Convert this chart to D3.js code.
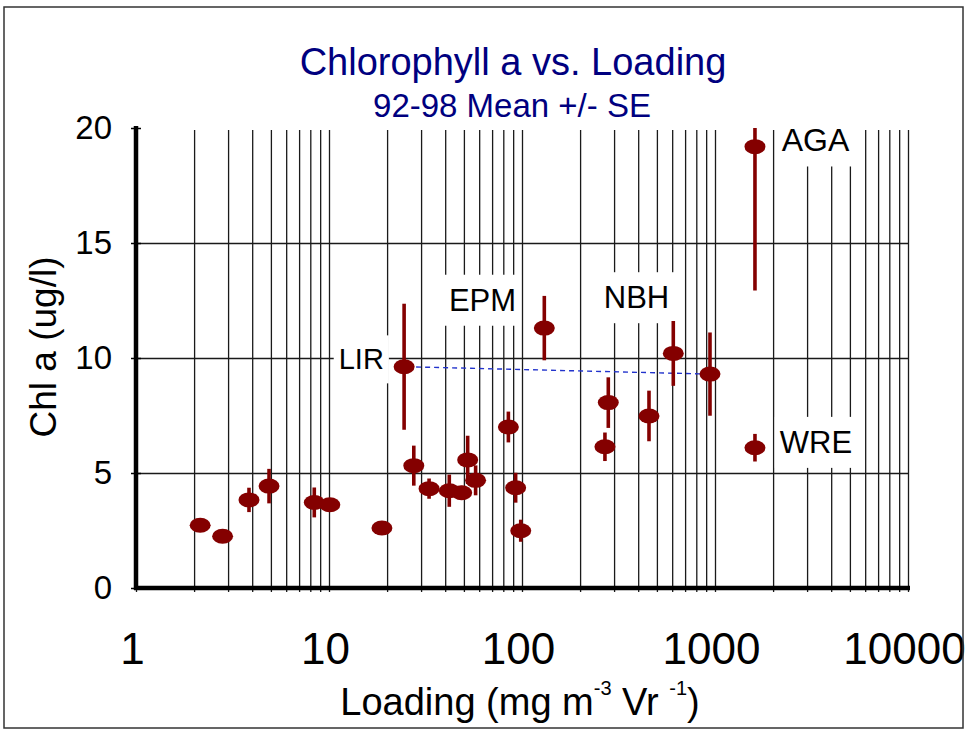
<!DOCTYPE html>
<html>
<head>
<meta charset="utf-8">
<script src="https://cdn.jsdelivr.net/npm/d3@7"></script>
<style>
  body { margin: 0; background: #fff; }
  svg { display: block; font-family: "Liberation Sans", Arial, sans-serif; }
</style>
</head>
<body>
<svg id="chart"></svg>
<script>
const width = 968;
const height = 732;
const margin = {top: 128, right: 60, bottom: 144, left: 136};

// site means, 92-98
const loading = [2.15, 2.81, 3.85, 4.89, 8.39, 10.1, 18.8, 24.5, 27.5, 33, 42, 48.7, 52.3, 57.5,
                 85, 92.7, 98.5, 130.5, 269, 280, 455, 608, 942, 1611, 1611];
const chlA = [2.73, 2.25, 3.83, 4.43, 3.72, 3.62, 2.61, 9.62, 5.32, 4.32, 4.23, 4.14, 5.57, 4.68,
              7.0, 4.36, 2.49, 11.3, 6.14, 8.06, 7.48, 10.2, 9.3, 19.19, 6.1];
const chlSE = [0.15, 0.15, 0.53, 0.75, 0.65, 0.2, 0.15, 2.74, 0.87, 0.44, 0.7, 0.3, 1.05, 0.65,
               0.67, 0.65, 0.48, 1.4, 0.62, 1.1, 1.1, 1.41, 1.81, 6.26, 0.6];

const xTicks = [1, 10, 100, 1000, 10000];
const yTicks = [0, 5, 10, 15, 20];

// site labels (centre, in data units)
const labelNames = ['LIR', 'EPM', 'NBH', 'AGA', 'WRE'];
const labelX = [14.7, 62.4, 392, 3316, 3334];
const labelY = [9.96, 12.54, 12.65, 19.48, 6.36];
const labelSize = [29, 31, 31, 32, 31];

// dashed line joins LIR with the site at ~940
const refFrom = 7, refTo = 22;

const red = '#840000';
const navy = '#00007f';

const x = d3.scaleLog().domain([1, 10000]).range([margin.left, width - margin.right]);
const y = d3.scaleLinear().domain([0, 20]).range([height - margin.bottom, margin.top]);

const svg = d3.select('#chart')
    .attr('width', width)
    .attr('height', height);

svg.append('rect')
    .attr('width', width).attr('height', height)
    .attr('fill', '#fff');

// titles
svg.append('text')
    .attr('x', 513).attr('y', 75)
    .attr('text-anchor', 'middle')
    .attr('fill', navy)
    .style('font-size', '38px')
    .text('Chlorophyll a vs. Loading');

svg.append('text')
    .attr('x', 512).attr('y', 117)
    .attr('text-anchor', 'middle')
    .attr('fill', navy)
    .style('font-size', '33px')
    .text('92-98 Mean +/- SE');

// vertical grid: every 1..9 per decade
const minor = [];
for (let d = 1; d <= 1000; d *= 10)
    for (let k = 1; k <= 9; k++) minor.push(d * k);
minor.push(10000);

const bottomY = y(0);
svg.append('g')
    .attr('transform', `translate(0,${bottomY + 4})`)
    .call(d3.axisBottom(x).tickValues(minor).tickFormat('').tickSize(-(bottomY + 4 - y(20) - 2)).tickSizeOuter(0))
    .call(g => g.select('.domain').remove())
    .call(g => g.selectAll('.tick line').attr('stroke', '#1a1a1a').attr('stroke-width', 1.3));

// horizontal grid
svg.append('g')
    .attr('transform', `translate(${margin.left},0)`)
    .call(d3.axisLeft(y).tickValues([5, 10, 15]).tickFormat('').tickSize(-(x(10000) - margin.left)).tickSizeOuter(0))
    .call(g => g.select('.domain').remove())
    .call(g => g.selectAll('.tick line').attr('stroke', '#1a1a1a').attr('stroke-width', 1.3));

// small ticks crossing the y axis
svg.append('g')
    .attr('transform', `translate(${margin.left - 5},0)`)
    .call(d3.axisLeft(y).tickValues(yTicks).tickFormat('').tickSize(-10).tickSizeOuter(0))
    .call(g => g.select('.domain').remove())
    .call(g => g.selectAll('.tick line').attr('stroke', '#000').attr('stroke-width', 1.5));

// tick labels
svg.append('g')
    .attr('transform', `translate(112,0)`)
    .call(d3.axisLeft(y).tickValues(yTicks).tickSize(0).tickPadding(0))
    .call(g => g.select('.domain').remove())
    .call(g => g.selectAll('text').attr('fill', '#000').style('font-size', '33px')
        .style('font-family', '"Liberation Sans", Arial, sans-serif'));

svg.append('g')
    .attr('transform', `translate(-4,${bottomY})`)
    .call(d3.axisBottom(x).tickValues(xTicks).tickFormat(d3.format('d')).tickSize(0).tickPadding(45))
    .call(g => g.select('.domain').remove())
    .call(g => g.selectAll('text').attr('fill', '#000').style('font-size', '44px')
        .style('font-family', '"Liberation Sans", Arial, sans-serif'));

// axis titles
svg.append('text')
    .attr('transform', 'translate(56,347) rotate(-90)')
    .attr('text-anchor', 'middle')
    .style('font-size', '37px')
    .text('Chl a (ug/l)');

const xl = svg.append('text')
    .attr('x', 520).attr('y', 715)
    .attr('text-anchor', 'middle')
    .style('font-size', '38px');
xl.append('tspan').text('Loading (mg m');
xl.append('tspan').attr('dy', -20).style('font-size', '20px').text('-3');
xl.append('tspan').attr('dy', 20).text(' Vr ');
xl.append('tspan').attr('dy', -20).style('font-size', '20px').text('-1');
xl.append('tspan').attr('dy', 20).text(')');

// site labels on white boxes
const lab = svg.append('g');
labelNames.forEach((name, i) => {
    const g = lab.append('g');
    const t = g.append('text')
        .attr('x', x(labelX[i]))
        .attr('y', y(labelY[i]))
        .attr('text-anchor', 'middle')
        .attr('dy', '0.36em')
        .style('font-size', labelSize[i] + 'px')
        .text(name);
    const bb = t.node().getBBox();
    g.insert('rect', 'text')
        .attr('x', bb.x - 5).attr('y', bb.y - 8)
        .attr('width', bb.width + 10).attr('height', bb.height + 16)
        .attr('fill', '#fff');
});

// clip to plotting area
svg.append('clipPath').attr('id', 'plot')
  .append('rect')
    .attr('x', margin.left).attr('y', y(20))
    .attr('width', x(10000) - margin.left).attr('height', y(0) - y(20));

const plot = svg.append('g').attr('clip-path', 'url(#plot)');

plot.append('line')
    .attr('x1', x(loading[refFrom]) + 3).attr('y1', y(chlA[refFrom]))
    .attr('x2', x(loading[refTo])).attr('y2', y(chlA[refTo]))
    .attr('stroke', '#2233cc')
    .attr('stroke-width', 1.4)
    .attr('stroke-dasharray', '5,4');

const idx = d3.range(loading.length);

plot.selectAll('.err')
    .data(idx)
    .join('line')
    .attr('class', 'err')
    .attr('x1', i => x(loading[i])).attr('x2', i => x(loading[i]))
    .attr('y1', i => y(chlA[i] + chlSE[i]))
    .attr('y2', i => y(chlA[i] - chlSE[i]))
    .attr('stroke', red)
    .attr('stroke-width', 3.6);

plot.selectAll('.pt')
    .data(idx)
    .join('ellipse')
    .attr('class', 'pt')
    .attr('cx', i => x(loading[i]))
    .attr('cy', i => y(chlA[i]))
    .attr('rx', 10.5)
    .attr('ry', 7.5)
    .attr('fill', red);

// thick axis lines
svg.append('line')
    .attr('x1', margin.left).attr('x2', margin.left)
    .attr('y1', y(20) - 2).attr('y2', bottomY + 2)
    .attr('stroke', '#000').attr('stroke-width', 4.5);

svg.append('line')
    .attr('x1', margin.left - 2).attr('x2', x(10000) + 2)
    .attr('y1', bottomY).attr('y2', bottomY)
    .attr('stroke', '#000').attr('stroke-width', 4.5);

// outer frame
svg.append('rect')
    .attr('x', 4).attr('y', 7)
    .attr('width', 959).attr('height', 721)
    .attr('fill', 'none')
    .attr('stroke', '#333')
    .attr('stroke-width', 1.5);
</script>
</body>
</html>
